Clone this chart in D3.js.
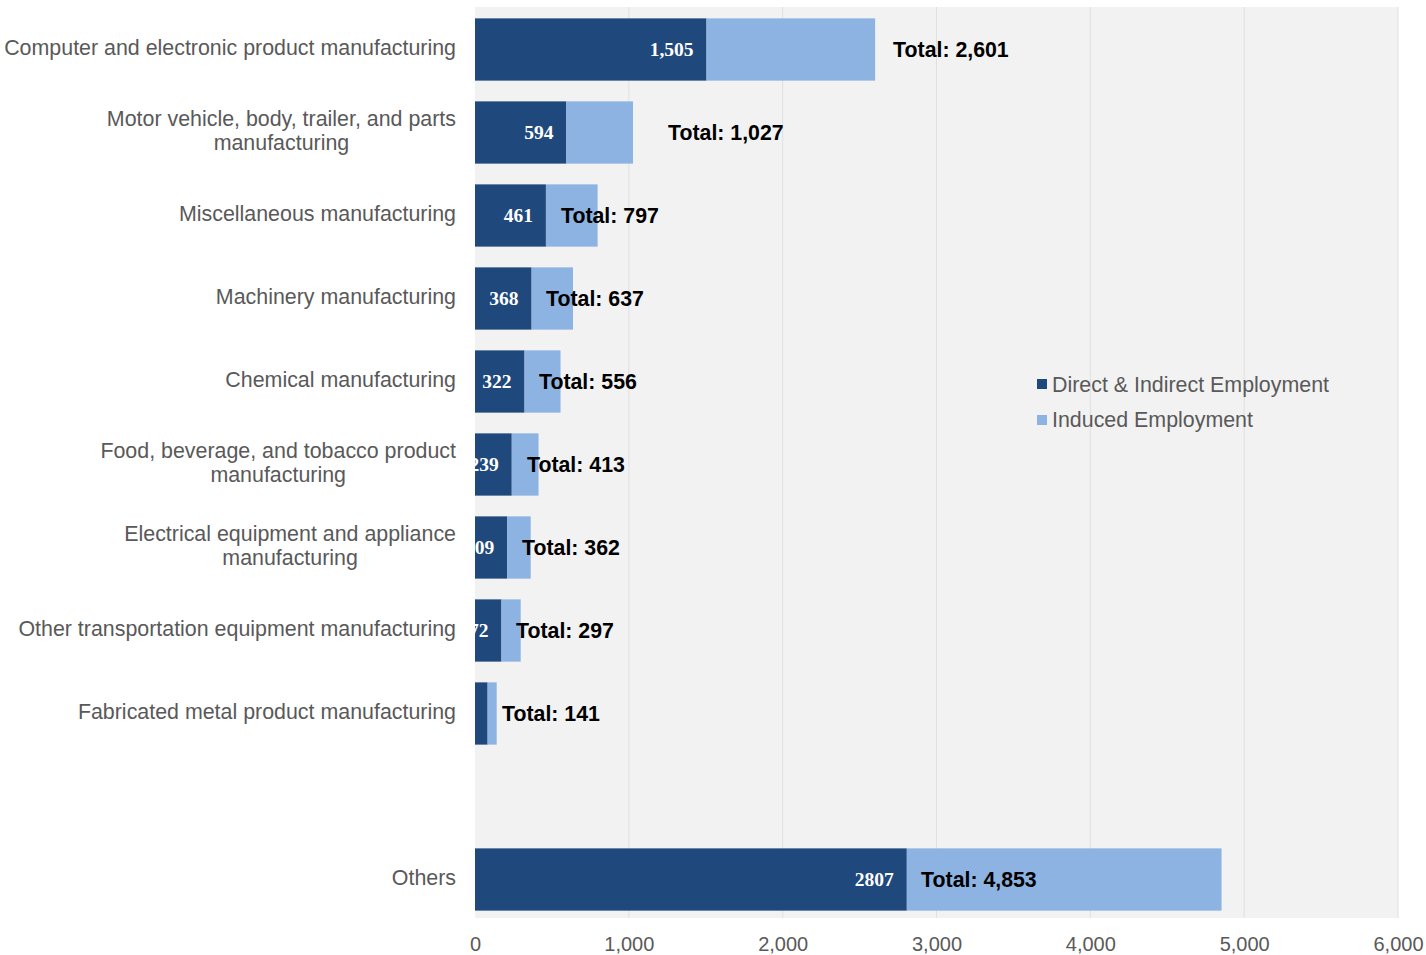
<!DOCTYPE html>
<html><head><meta charset="utf-8">
<script src="https://cdn.jsdelivr.net/npm/d3@7"></script>
<style>body{margin:0;background:#fff;} svg{display:block;}</style>
</head><body>
<svg id="c" width="1426" height="955"></svg>
<script>
const categories = [
  "Computer and electronic product manufacturing",
  "Motor vehicle, body, trailer, and parts|manufacturing",
  "Miscellaneous manufacturing",
  "Machinery manufacturing",
  "Chemical manufacturing",
  "Food, beverage, and tobacco product|manufacturing",
  "Electrical equipment and appliance|manufacturing",
  "Other transportation equipment manufacturing",
  "Fabricated metal product manufacturing",
  "",
  "Others"
];
const direct = [1505, 594, 461, 368, 322, 239, 209, 172, 82, null, 2807];
const totals = [2601, 1027, 797, 637, 556, 413, 362, 297, 141, null, 4853];
const directLabels = ["1,505", "594", "461", "368", "322", "239", "209", "172", "82", "", "2807"];
const totalLabels = ["Total: 2,601", "Total: 1,027", "Total: 797", "Total: 637", "Total: 556", "Total: 413", "Total: 362", "Total: 297", "Total: 141", "", "Total: 4,853"];
// where the "Total" text boxes begin, in data units
const totalLabelAt = [2718, 1255, 559, 462, 416, 338, 306, 267, 176, null, 2900];
const xTicks = [0, 1000, 2000, 3000, 4000, 5000, 6000];
const seriesNames = ["Direct & Indirect Employment", "Induced Employment"];
const colors = ["#1F487C", "#8DB3E2"];

const svg = d3.select("#c");
const L = 475, R = 1398, T = 7, B = 918;
const x = d3.scaleLinear().domain([0, 6000]).range([L, R]);
const y = d3.scaleBand().domain(d3.range(categories.length)).range([T + 1, 921]).paddingInner(0.25).paddingOuter(0.125);

svg.append("rect").attr("x", L).attr("y", T).attr("width", R - L).attr("height", B - T).attr("fill", "#f2f2f2");

svg.append("g").selectAll("line").data(xTicks.slice(1)).join("line")
  .attr("x1", d => x(d)).attr("x2", d => x(d)).attr("y1", T).attr("y2", B)
  .attr("stroke", "#e0e0e0").attr("stroke-width", 1);

svg.append("defs").append("clipPath").attr("id", "pc")
  .append("rect").attr("x", L).attr("y", T).attr("width", R - L).attr("height", B - T);

const rows = d3.range(categories.length).filter(i => direct[i] != null);
const g = svg.append("g").attr("clip-path", "url(#pc)");

g.selectAll("rect.d").data(rows).join("rect").attr("class", "d")
  .attr("x", x(0)).attr("y", i => y(i)).attr("height", y.bandwidth())
  .attr("width", i => x(direct[i]) - x(0)).attr("fill", colors[0]);
g.selectAll("rect.n").data(rows).join("rect").attr("class", "n")
  .attr("x", i => x(direct[i])).attr("y", i => y(i)).attr("height", y.bandwidth())
  .attr("width", i => x(totals[i]) - x(direct[i])).attr("fill", colors[1]);

g.selectAll("text.v").data(rows).join("text").attr("class", "v")
  .attr("x", i => x(direct[i]) - 13).attr("y", i => y(i) + y.bandwidth() / 2 - 0.5)
  .attr("dy", "0.35em").attr("text-anchor", "end")
  .attr("font-family", "'Liberation Serif', 'Times New Roman', serif").attr("font-weight", "bold")
  .attr("font-size", 19.5).attr("fill", "#fff").text(i => directLabels[i]);

svg.selectAll("text.t").data(rows).join("text").attr("class", "t")
  .attr("x", i => x(totalLabelAt[i])).attr("y", i => y(i) + y.bandwidth() / 2)
  .attr("dy", "0.35em").attr("text-anchor", "start")
  .attr("font-family", "'Liberation Sans', Arial, sans-serif").attr("font-weight", "bold")
  .attr("font-size", 21.3).attr("fill", "#000").text(i => totalLabels[i]);

// category labels: block right-aligned at 456, lines centred within block
const cl = svg.append("g");
categories.forEach((c, i) => {
  if (!c) return;
  const lines = c.split("|");
  const cy = y(i) + y.bandwidth() / 2 - 1.5;
  const t = cl.append("text").attr("text-anchor", "middle")
    .attr("font-family", "'Liberation Sans', Arial, sans-serif").attr("font-size", 21.4).attr("fill", "#595959");
  lines.forEach((ln, k) => {
    t.append("tspan").attr("x", 0).attr("y", cy + (k - (lines.length - 1) / 2) * 24).attr("dy", "0.35em").text(ln);
  });
  const bb = t.node().getBBox();
  t.selectAll("tspan").attr("x", 456 - bb.width / 2);
});

// x axis
const xa = d3.axisBottom(x).tickValues(xTicks).tickFormat(d3.format(",")).tickSize(0);
const ax = svg.append("g").attr("transform", `translate(0,${B + 16})`).call(xa);
ax.select(".domain").remove();
ax.selectAll("text").attr("font-family", "'Liberation Sans', Arial, sans-serif").attr("font-size", 20).attr("fill", "#595959");

// legend
const lg = svg.append("g").attr("transform", "translate(1037,384)");
seriesNames.forEach((n, k) => {
  lg.append("rect").attr("x", 0).attr("y", k * 36 - 5).attr("width", 10).attr("height", 10).attr("fill", colors[k]);
  lg.append("text").attr("x", 15).attr("y", k * 36).attr("dy", "0.35em")
    .attr("font-family", "'Liberation Sans', Arial, sans-serif").attr("font-size", 21.4).attr("fill", "#595959").text(n);
});
</script>
</body></html>
